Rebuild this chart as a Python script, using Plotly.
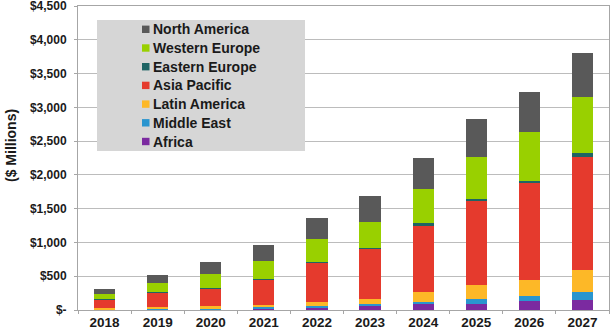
import plotly.graph_objects as go

years = ["2018", "2019", "2020", "2021", "2022", "2023", "2024", "2025", "2026", "2027"]

# Regional revenue ($ millions), stacked bottom to top
africa = [6, 8, 12, 22, 38, 55, 93, 93, 127, 152]
middle_east = [5, 7, 10, 16, 25, 32, 25, 64, 74, 119]
latin_america = [15, 25, 42, 40, 60, 70, 152, 213, 247, 321]
asia_pacific = [126, 226, 261, 380, 587, 750, 977, 1251, 1439, 1671]
eastern_europe = [5, 6, 7, 8, 8, 8, 40, 15, 30, 60]
western_europe = [80, 122, 195, 259, 332, 391, 503, 627, 720, 828]
north_america = [78, 128, 177, 236, 311, 384, 467, 565, 587, 660]

y_tick_vals = [0, 500, 1000, 1500, 2000, 2500, 3000, 3500, 4000, 4500]
y_tick_text = ["$-", "$500", "$1,000", "$1,500", "$2,000", "$2,500",
               "$3,000", "$3,500", "$4,000", "$4,500"]

series = [
    ("Africa", africa, "#7b2aa0"),
    ("Middle East", middle_east, "#2a95cf"),
    ("Latin America", latin_america, "#fdb827"),
    ("Asia Pacific", asia_pacific, "#e53a2d"),
    ("Eastern Europe", eastern_europe, "#1e6464"),
    ("Western Europe", western_europe, "#99d000"),
    ("North America", north_america, "#595959"),
]

FONT = "Arial, 'Liberation Sans', sans-serif"
W, H = 616, 331
L, R, T, B = 78, 7, 6, 21
PW, PH = W - L - R, H - T - B


def px_x(px):
    return (px - L) / PW


def px_y(py):
    return (H - B - py) / PH


fig = go.Figure()
for name, vals, color in series:
    fig.add_trace(go.Bar(x=years, y=vals, name=name, marker_color=color,
                         marker_line_width=0, width=0.4, showlegend=False))

shapes = []
annotations = []

# Legend panel
shapes.append(dict(type="rect", xref="paper", yref="paper",
                   x0=px_x(97), x1=px_x(305), y0=px_y(151), y1=px_y(20),
                   fillcolor="#d6d6d6", line=dict(width=0), layer="above"))
for i, (name, vals, color) in enumerate(reversed(series)):
    cy = 29.3 + i * 18.7
    shapes.append(dict(type="rect", xref="paper", yref="paper",
                       x0=px_x(142), x1=px_x(149.5), y0=px_y(cy + 3.7), y1=px_y(cy - 3.7),
                       fillcolor=color, line=dict(width=0), layer="above"))
    annotations.append(dict(xref="paper", yref="paper", x=px_x(151), y=px_y(cy),
                            xanchor="left", yanchor="middle", showarrow=False,
                            text=f"<b>{name}</b>",
                            font=dict(family=FONT, size=14, color="#1a1a1a")))

# Y-axis title
annotations.append(dict(xref="paper", yref="paper", x=px_x(11), y=px_y(146),
                        xanchor="center", yanchor="middle", showarrow=False,
                        text="<b>($ Millions)</b>", textangle=-90,
                        font=dict(family=FONT, size=14, color="#1a1a1a")))

fig.update_layout(
    width=W, height=H,
    margin=dict(l=L, r=R, t=T, b=B, autoexpand=False),
    barmode="stack",
    paper_bgcolor="white", plot_bgcolor="white",
    font=dict(family=FONT, color="#1a1a1a"),
    shapes=shapes, annotations=annotations,
    xaxis=dict(type="category", showgrid=False, showline=True, mirror=True,
               linecolor="#a6a6a6", linewidth=1, automargin=False,
               ticks="outside", tickson="boundaries", ticklen=3, tickcolor="#a6a6a6",
               ticklabelstandoff=0, ticklabeloverflow="allow",
               tickfont=dict(family=FONT, size=13.5, color="#1a1a1a"),
               tickprefix="<b>", ticksuffix="</b>"),
    yaxis=dict(range=[0, 4500], tickvals=y_tick_vals, automargin=False,
               ticktext=[f"<b>{t}</b>" for t in y_tick_text],
               showgrid=True, gridcolor="#bcbcbc", gridwidth=1,
               showline=True, mirror=True, linecolor="#a6a6a6", linewidth=1,
               ticks="outside", ticklen=3, tickcolor="#a6a6a6",
               ticklabelstandoff=5, ticklabeloverflow="allow",
               zeroline=False,
               tickfont=dict(family=FONT, size=12, color="#1a1a1a")),
)

fig.write_html("out.html")
